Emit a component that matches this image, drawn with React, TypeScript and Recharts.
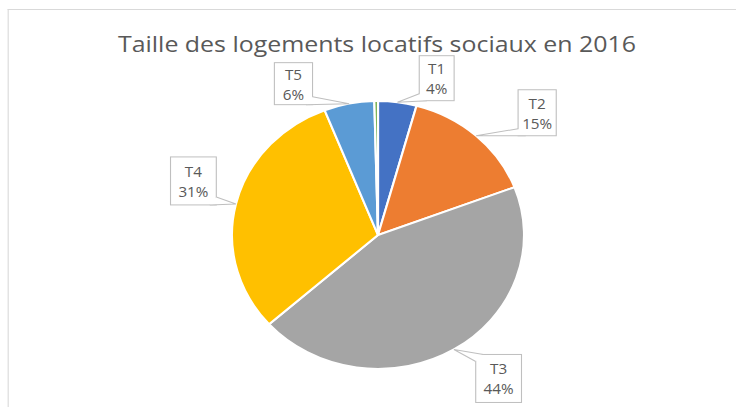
import React from 'react';
import { PieChart, Pie, Cell } from 'recharts';

// ---- data ----
const categories = ['T1', 'T2', 'T3', 'T4', 'T5', 'T6+'];
const shares = [4.25, 14.95, 44.2, 30.65, 5.55, 0.4];
const colors = ['#4472C4', '#ED7D31', '#A5A5A5', '#FFC000', '#5B9BD5', '#70AD47'];
const showLabel = [true, true, true, true, true, false];
const title = 'Taille des logements locatifs sociaux en 2016';

// callout box layout (offset of box centre from the slice's edge point, box size)
const calloutDx = [36, 56, 41, -39, -51, 0];
const calloutDy = [-24, -23, 29, -23, -20, 0];
const calloutW = [32, 35, 42, 42, 35, 0];
const calloutH = [45, 46, 48, 48, 42, 0];

const data = categories.map((name, i) => ({ name, value: shares[i] }));

const SX = 1.09;
const PAGE_W = 736;
const PAGE_H = 407;
const INNER_W = PAGE_W / SX;
const RADIAN = Math.PI / 180;
const TEXT = '#595959';
const BORDER = '#BFBFBF';

function perimeterPoint(x: number, y: number, w: number, h: number, s: number) {
  const P = 2 * (w + h);
  s = ((s % P) + P) % P;
  if (s <= w) return [x + s, y];
  s -= w;
  if (s <= h) return [x + w, y + s];
  s -= h;
  if (s <= w) return [x + w - s, y + h];
  s -= w;
  return [x, y + h - s];
}

function closestS(x: number, y: number, w: number, h: number, px: number, py: number) {
  const cx = Math.min(Math.max(px, x), x + w);
  const cy = Math.min(Math.max(py, y), y + h);
  const dTop = Math.abs(cy - y);
  const dBottom = Math.abs(cy - (y + h));
  const dLeft = Math.abs(cx - x);
  const dRight = Math.abs(cx - (x + w));
  const m = Math.min(dTop, dBottom, dLeft, dRight);
  if (m === dTop) return cx - x;
  if (m === dRight) return w + (cy - y);
  if (m === dBottom) return w + h + (x + w - cx);
  return 2 * w + h + (y + h - cy);
}

const renderCallout = (props: any) => {
  const { cx, cy, midAngle, outerRadius, index, percent, name } = props;
  if (!showLabel[index]) return null;
  const tx = cx + outerRadius * Math.cos(-midAngle * RADIAN);
  const ty = cy + outerRadius * Math.sin(-midAngle * RADIAN);
  const w = calloutW[index];
  const h = calloutH[index];
  const bx = tx + calloutDx[index] - w / 2;
  const by = ty + calloutDy[index] - h / 2;
  const s0 = closestS(bx, by, w, h, tx, ty);
  const p1 = perimeterPoint(bx, by, w, h, s0 - 7);
  const p2 = perimeterPoint(bx, by, w, h, s0 + 7);
  const pct = Math.round(percent * 1000) / 10;
  const label = Math.round(pct) + '%';
  const mx = bx + w / 2;
  const my = by + h / 2;
  return (
    <g key={'callout-' + index}>
      <rect x={bx} y={by} width={w} height={h} fill="#fff" stroke={BORDER} strokeWidth={1} />
      <polygon points={`${p1[0]},${p1[1]} ${tx},${ty} ${p2[0]},${p2[1]}`} fill="#fff" stroke="none" />
      <polyline points={`${p1[0]},${p1[1]} ${tx},${ty} ${p2[0]},${p2[1]}`} fill="none" stroke={BORDER} strokeWidth={1} />
      <text x={mx} y={my - 4} textAnchor="middle" fontSize={14} fill={TEXT} fontFamily="'Open Sans', sans-serif">
        {name}
      </text>
      <text x={mx} y={my + 16} textAnchor="middle" fontSize={14} fill={TEXT} fontFamily="'Open Sans', sans-serif">
        {label}
      </text>
    </g>
  );
};

export default function App() {
  return (
    <div
      style={{
        position: 'fixed',
        left: 0,
        top: 0,
        width: PAGE_W,
        height: PAGE_H,
        overflow: 'hidden',
        background: '#fff',
      }}
    >
      <div
        style={{
          position: 'absolute',
          left: 0,
          top: 0,
          width: INNER_W,
          height: PAGE_H,
          transform: `scaleX(${SX})`,
          transformOrigin: '0 0',
        }}
      >
        <div
          style={{
            position: 'absolute',
            left: 8 / SX,
            top: 9,
            width: 720,
            height: 420,
            borderTop: '1px solid #D9D9D9',
            borderLeft: '1px solid #D9D9D9',
            boxSizing: 'border-box',
          }}
        />
        <svg
          width={INNER_W}
          height={70}
          style={{ position: 'absolute', left: 0, top: 0 }}
        >
          <text
            x={377 / SX}
            y={52}
            textAnchor="middle"
            fontSize={22}
            fill={TEXT}
            fontFamily="'Open Sans', sans-serif"
            textLength={518 / SX}
            lengthAdjust="spacingAndGlyphs"
          >
            {title}
          </text>
        </svg>
        <div style={{ position: 'absolute', left: 0, top: 0 }}>
          <PieChart width={INNER_W} height={PAGE_H} margin={{ top: 0, right: 0, bottom: 0, left: 0 }}>
            <Pie
              data={data}
              dataKey="value"
              nameKey="name"
              cx={378 / SX}
              cy={235}
              outerRadius={134}
              startAngle={90}
              endAngle={-270}
              stroke="#fff"
              strokeWidth={2}
              label={renderCallout}
              labelLine={false}
              isAnimationActive={false}
            >
              {data.map((d, i) => (
                <Cell key={d.name} fill={colors[i]} />
              ))}
            </Pie>
          </PieChart>
        </div>
      </div>
    </div>
  );
}
